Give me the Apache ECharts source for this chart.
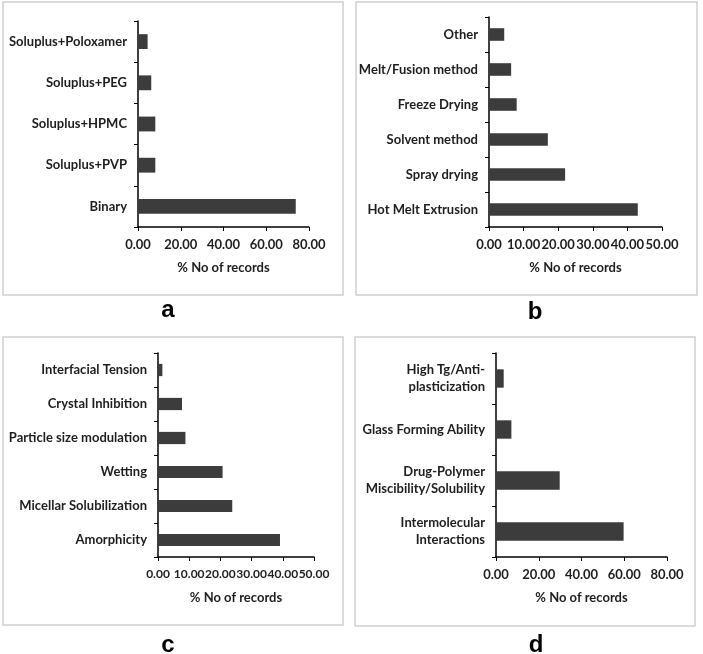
<!DOCTYPE html>
<html><head><meta charset="utf-8">
<script src="https://cdn.jsdelivr.net/npm/echarts@6/dist/echarts.min.js"></script>
<style>html,body{margin:0;padding:0;background:#fff}#c{width:703px;height:654px}</style>
</head><body><div id="c"></div>
<script>
// Panel a
const catsA = ['Binary', 'Soluplus+PVP', 'Soluplus+HPMC', 'Soluplus+PEG', 'Soluplus+Poloxamer'];
const valsA = [73.8, 8.1, 8.1, 6.2, 4.5];
const ticksA = {min: 0, max: 80, interval: 20};
// Panel b
const catsB = ['Hot Melt Extrusion', 'Spray drying', 'Solvent method', 'Freeze Drying', 'Melt/Fusion method', 'Other'];
const valsB = [43.0, 22.0, 17.0, 8.0, 6.4, 4.4];
const ticksB = {min: 0, max: 50, interval: 10};
// Panel c
const catsC = ['Amorphicity', 'Micellar Solubilization', 'Wetting', 'Particle size modulation', 'Crystal Inhibition', 'Interfacial Tension'];
const valsC = [39.1, 23.8, 20.7, 8.8, 7.7, 1.4];
const ticksC = {min: 0, max: 50, interval: 10};
// Panel d
const catsD = ['Intermolecular\nInteractions', 'Drug-Polymer\nMiscibility/Solubility', 'Glass Forming Ability', 'High Tg/Anti-\nplasticization'];
const valsD = [59.7, 29.8, 7.2, 3.6];
const ticksD = {min: 0, max: 80, interval: 20};
const axisTitle = '% No of records';
const panelLetters = ['a', 'b', 'c', 'd'];

const FONT = 'Lato';
const TXT = '#1e1e1e';
const FS = 13;
const tickFS = [13, 13, 12, 13];
const grids = [
  {left: 138, top: 21, width: 171, height: 206},
  {left: 489, top: 17, width: 173, height: 210},
  {left: 158, top: 353, width: 156, height: 204},
  {left: 496, top: 353, width: 171, height: 204}
];
const panels = [[catsA, valsA, ticksA], [catsB, valsB, ticksB], [catsC, valsC, ticksC], [catsD, valsD, ticksD]];

const xAxis = [], yAxis = [], series = [];
panels.forEach((p, i) => {
  xAxis.push({
    type: 'value', gridIndex: i, min: p[2].min, max: p[2].max, interval: p[2].interval,
    splitLine: {show: false},
    axisLine: {show: true, lineStyle: {color: '#000', width: 1.5}},
    axisTick: {show: true, length: 4, lineStyle: {color: '#000'}},
    axisLabel: {formatter: v => v.toFixed(2), color: TXT, fontFamily: FONT, fontWeight: 'bold', fontSize: tickFS[i], margin: 11,
      showMinLabel: true, showMaxLabel: true, hideOverlap: false},
    name: axisTitle, nameLocation: 'middle', nameGap: 34,
    nameTextStyle: {color: TXT, fontFamily: FONT, fontWeight: 'bold', fontSize: FS}
  });
  yAxis.push({
    type: 'category', gridIndex: i, data: p[0],
    axisLine: {show: true, lineStyle: {color: '#000', width: 1.5}},
    axisTick: {show: true, length: 4, lineStyle: {color: '#000'}},
    axisLabel: {color: TXT, fontFamily: FONT, fontWeight: 'bold', fontSize: FS, margin: 11, lineHeight: 17, align: 'right', interval: 0}
  });
  series.push({
    type: 'bar', xAxisIndex: i, yAxisIndex: i, data: p[1], barWidth: '36%',
    itemStyle: {color: '#3c3c3c'}, silent: true
  });
});

const boxes = [[3, 2, 340, 293], [356, 2, 341, 293], [3, 337, 340, 288], [355, 337, 340, 289]];
const letterPos = [[168, 310], [535, 312], [168, 645], [536, 645]];
const graphic = [];
boxes.forEach(b => graphic.push({type: 'rect', shape: {x: b[0], y: b[1], width: b[2], height: b[3]}, style: {fill: 'none', stroke: '#cfcfcf', lineWidth: 1.5}, silent: true}));
letterPos.forEach((pos, i) => graphic.push({type: 'text', x: pos[0], y: pos[1], style: {text: panelLetters[i], font: 'bold 24px "Liberation Sans", Arial, sans-serif', fill: '#000', align: 'center', verticalAlign: 'middle'}, silent: true}));

const chart = echarts.init(document.getElementById('c'), null, {renderer: 'canvas'});
chart.setOption({animation: false, grid: grids, xAxis, yAxis, series, graphic});
</script></body></html>
